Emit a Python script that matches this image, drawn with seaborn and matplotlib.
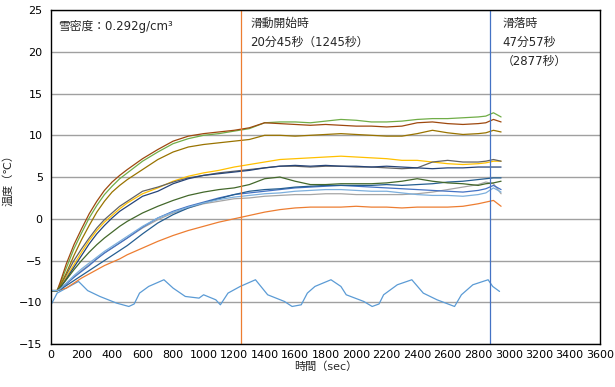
import matplotlib
matplotlib.use("Agg")
import matplotlib.pyplot as plt
import pandas as pd
import seaborn as sns
from matplotlib.ticker import MultipleLocator

# time axis shared by the snow sensors (sec)
time_sec = [0, 40, 60, 100, 150, 200, 250, 300, 350, 400, 450, 500, 600, 700,
            800, 900, 1000, 1100, 1200, 1300, 1400, 1500, 1600, 1700, 1800, 1900,
            2000, 2100, 2200, 2300, 2400, 2500, 2600, 2700, 2800, 2850, 2900, 2950]

# air temperature has its own sample points
air_time_sec = [0, 40, 100, 180, 240, 320, 430, 510, 545, 580, 640, 740, 800, 880,
                970, 1000, 1080, 1110, 1160, 1240, 1340, 1420, 1530, 1580, 1640,
                1680, 1730, 1835, 1900, 1935, 2050, 2105, 2150, 2180, 2270, 2365,
                2440, 2530, 2645, 2690, 2765, 2865, 2895, 2940]
temp_ch01 = [-10.3, -8.9, -8.3, -7.5, -8.6, -9.3, -10.1, -10.5, -10.2, -8.9,
             -8.1, -7.3, -8.3, -9.3, -9.5, -9.1, -9.7, -10.3, -8.9, -8.1,
             -7.3, -9.1, -9.9, -10.5, -10.3, -8.9, -8.1, -7.3, -8.1, -9.1,
             -9.9, -10.5, -10.2, -9.1, -7.9, -7.3, -8.9, -9.7, -10.5, -9.1,
             -7.9, -7.3, -8.1, -8.7]

temp_ch02 = [-8.6, -8.6, -8.5, -8.3, -7.7, -7.1, -6.6, -6.1, -5.6, -5.2, -4.8, -4.3, -3.5, -2.7,
             -2.0, -1.4, -0.9, -0.4, 0.0, 0.4, 0.8, 1.1, 1.3, 1.4, 1.4, 1.4,
             1.5, 1.4, 1.4, 1.3, 1.4, 1.4, 1.4, 1.5, 1.8, 2.0, 2.2, 1.5]
temp_ch03 = [-8.6, -8.6, -8.4, -7.8, -7.0, -6.2, -5.5, -4.8, -4.1, -3.5, -2.9, -2.3, -1.1, -0.1,
             0.7, 1.3, 1.8, 2.1, 2.4, 2.5, 2.7, 2.8, 2.9, 2.9, 3.0, 3.0,
             2.9, 2.9, 2.9, 2.9, 3.0, 3.2, 3.5, 3.8, 4.1, 4.4, 4.2, 3.0]
temp_ch04 = [-8.6, -8.6, -8.2, -7.0, -5.5, -4.0, -2.6, -1.4, -0.4, 0.4, 1.2, 1.9, 3.0, 3.7,
             4.5, 5.1, 5.5, 5.8, 6.2, 6.5, 6.8, 7.1, 7.2, 7.3, 7.4, 7.5,
             7.4, 7.3, 7.2, 7.0, 7.0, 6.8, 6.6, 6.5, 6.6, 6.7, 6.9, 6.9]
temp_ch05 = [-8.6, -8.6, -8.4, -7.8, -7.0, -6.3, -5.6, -4.8, -4.1, -3.5, -2.9, -2.3, -1.0, 0.1,
             0.9, 1.5, 2.0, 2.5, 2.9, 3.1, 3.3, 3.5, 3.7, 3.8, 3.9, 4.0,
             3.9, 3.8, 3.7, 3.6, 3.5, 3.4, 3.3, 3.2, 3.4, 3.6, 4.0, 3.5]
temp_ch06 = [-8.6, -8.6, -7.8, -5.9, -3.6, -1.7, 0.1, 1.6, 2.9, 3.9, 4.8, 5.5, 6.9, 8.0,
             9.0, 9.6, 10.0, 10.2, 10.5, 10.8, 11.5, 11.6, 11.6, 11.5, 11.7, 11.9,
             11.8, 11.6, 11.6, 11.7, 11.9, 12.0, 12.0, 12.1, 12.2, 12.3, 12.7, 12.2]
temp_ch07 = [-8.6, -8.6, -8.5, -8.0, -7.4, -6.8, -6.2, -5.6, -5.0, -4.4, -3.8, -3.2, -1.8, -0.5,
             0.5, 1.3, 1.9, 2.4, 2.9, 3.3, 3.5, 3.6, 3.8, 3.9, 4.0, 4.0,
             4.0, 4.0, 4.1, 4.0, 4.1, 4.2, 4.4, 4.5, 4.7, 4.8, 4.9, 4.9]
temp_ch08 = [-8.6, -8.6, -7.6, -5.4, -3.1, -1.2, 0.6, 2.1, 3.4, 4.4, 5.2, 5.9, 7.2, 8.3,
             9.3, 9.9, 10.2, 10.4, 10.6, 10.9, 11.5, 11.4, 11.3, 11.2, 11.3, 11.2,
             11.1, 11.1, 11.0, 11.1, 11.5, 11.6, 11.4, 11.3, 11.4, 11.5, 11.9, 11.6]
temp_ch09 = [-8.6, -8.6, -8.0, -6.7, -5.0, -3.6, -2.3, -1.1, -0.1, 0.7, 1.5, 2.1, 3.3, 3.8,
             4.4, 4.9, 5.2, 5.5, 5.7, 5.9, 6.1, 6.3, 6.3, 6.2, 6.3, 6.3,
             6.2, 6.2, 6.1, 6.0, 6.1, 6.8, 7.0, 6.8, 6.8, 6.9, 7.1, 6.9]
temp_ch10 = [-8.6, -8.6, -8.0, -6.5, -4.4, -2.5, -0.8, 0.8, 2.1, 3.2, 4.0, 4.7, 5.9, 7.1,
             8.0, 8.6, 8.9, 9.1, 9.3, 9.5, 10.0, 10.0, 9.9, 10.0, 10.1, 10.2,
             10.1, 10.0, 9.9, 9.9, 10.2, 10.6, 10.3, 10.1, 10.2, 10.3, 10.6, 10.4]
temp_ch11 = [-8.6, -8.6, -8.3, -7.2, -5.8, -4.4, -3.0, -1.8, -0.8, 0.1, 0.9, 1.5, 2.7, 3.3,
             4.2, 4.8, 5.2, 5.4, 5.6, 5.8, 6.1, 6.3, 6.4, 6.3, 6.4, 6.3,
             6.3, 6.2, 6.3, 6.2, 6.1, 6.0, 6.1, 6.1, 6.2, 6.2, 6.2, 6.2]
temp_ch12 = [-8.6, -8.6, -8.2, -7.3, -6.1, -5.0, -4.0, -3.1, -2.3, -1.6, -0.9, -0.3, 0.7, 1.5,
             2.2, 2.8, 3.2, 3.5, 3.7, 4.1, 4.8, 5.0, 4.5, 4.1, 4.1, 4.2,
             4.2, 4.2, 4.3, 4.5, 4.8, 4.5, 4.3, 4.2, 4.0, 4.2, 4.3, 4.5]
temp_ch13 = [-8.6, -8.6, -8.4, -7.7, -6.8, -6.0, -5.3, -4.6, -3.9, -3.3, -2.7, -2.1, -0.9, 0.1,
             0.8, 1.4, 1.9, 2.3, 2.6, 2.8, 3.0, 3.1, 3.3, 3.4, 3.5, 3.5,
             3.4, 3.3, 3.3, 3.1, 2.9, 2.8, 2.8, 2.7, 2.9, 3.1, 3.7, 3.2]

sensor_names = ["ch01", "ch02", "ch03", "ch04", "ch05", "ch06", "ch07",
                "ch08", "ch09", "ch10", "ch11", "ch12", "ch13"]
sensor_colors = ["#5B9BD5", "#ED7D31", "#A5A5A5", "#FFC000", "#4472C4", "#70AD47",
                 "#255E91", "#9E480E", "#636363", "#997300", "#264478", "#43682B",
                 "#7CAFDD"]

slide_start_sec = 1245
slide_fall_sec = 2877


def build_frame():
    """Long-form table of all sensor traces."""
    series = {
        "ch01": (air_time_sec, temp_ch01),
        "ch02": (time_sec, temp_ch02),
        "ch03": (time_sec, temp_ch03),
        "ch04": (time_sec, temp_ch04),
        "ch05": (time_sec, temp_ch05),
        "ch06": (time_sec, temp_ch06),
        "ch07": (time_sec, temp_ch07),
        "ch08": (time_sec, temp_ch08),
        "ch09": (time_sec, temp_ch09),
        "ch10": (time_sec, temp_ch10),
        "ch11": (time_sec, temp_ch11),
        "ch12": (time_sec, temp_ch12),
        "ch13": (time_sec, temp_ch13),
    }
    frames = [
        pd.DataFrame({"sensor": name, "time": t, "temp": v})
        for name, (t, v) in series.items()
    ]
    return pd.concat(frames, ignore_index=True)


def main():
    df = build_frame()

    sns.set_theme(style="white")
    # digits from DejaVu (wide, like the original), kanji from Noto CJK
    plt.rcParams["font.family"] = ["DejaVu Sans", "Noto Sans CJK JP"]

    fig = plt.figure(figsize=(6.15, 3.87), dpi=100)
    ax = fig.add_axes([0.083, 0.111, 0.893, 0.863])

    sns.lineplot(
        data=df, x="time", y="temp", hue="sensor",
        hue_order=sensor_names,
        palette=dict(zip(sensor_names, sensor_colors)),
        estimator=None, sort=False, linewidth=0.9, legend=False, ax=ax,
    )

    ax.axvline(slide_start_sec, color="#ED7D31", lw=0.9)
    ax.axvline(slide_fall_sec, color="#4472C4", lw=0.9)

    ax.set_xlim(0, 3600)
    ax.set_ylim(-15, 25)
    ax.xaxis.set_major_locator(MultipleLocator(200))
    ax.xaxis.set_minor_locator(MultipleLocator(100))
    ax.yaxis.set_major_locator(MultipleLocator(5))
    ax.yaxis.grid(True, color="#A0A0A0", lw=1)
    ax.xaxis.grid(False)
    ax.set_axisbelow(True)
    for spine in ax.spines.values():
        spine.set_color("black")
        spine.set_linewidth(1)
    ax.tick_params(axis="x", which="both", direction="in", length=3,
                   width=0.8, color="black", labelsize=8, pad=4,
                   labelcolor="black")
    ax.tick_params(axis="y", length=0, labelsize=8, pad=6, labelcolor="black")

    ax.set_xlabel("時間（sec）", fontsize=8, labelpad=1)
    ax.set_ylabel("温度（℃）", fontsize=8, labelpad=4)

    ax.text(46, 23, "雪密度：0.292g/cm³", fontsize=8.5, va="center")
    ax.text(1305, 24.2, "滑動開始時\n20分45秒（1245秒）", fontsize=8.5,
            va="top", linespacing=1.62)
    ax.text(2957, 24.2, "滑落時\n47分57秒\n（2877秒）", fontsize=8.5,
            va="top", linespacing=1.62)

    fig.savefig("out.png", dpi=100)
    plt.close(fig)


if __name__ == "__main__":
    main()
